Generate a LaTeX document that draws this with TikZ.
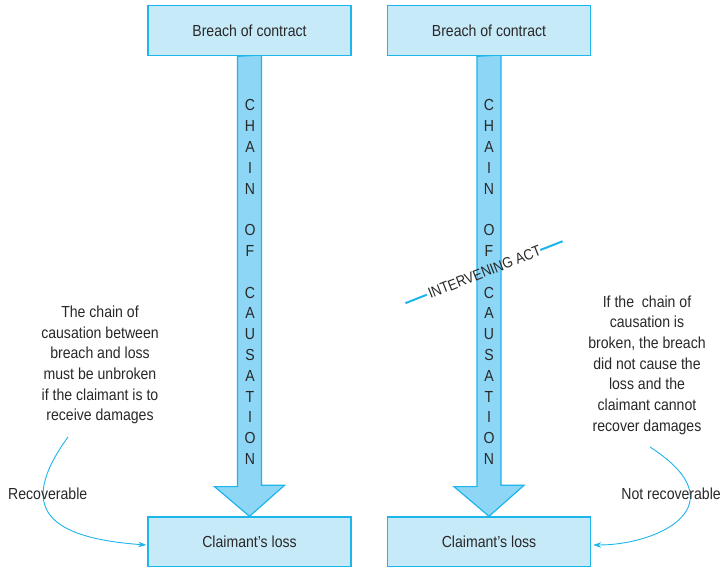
\documentclass[tikz,border=0pt]{standalone}
\usepackage{fontspec}
\setmainfont{Liberation Sans}[FakeStretch=0.88]
\usetikzlibrary{calc,arrows.meta}
\definecolor{boxfill}{RGB}{199,234,249}
\definecolor{boxline}{RGB}{30,180,236}
\definecolor{shaftfill}{RGB}{142,214,245}
\definecolor{ink}{RGB}{40,40,40}
\tikzset{
  stagebox/.style={draw=boxline, fill=boxfill, line width=1.4pt,
    minimum width=203pt, minimum height=50pt, inner sep=0pt,
    text=ink, font=\fontsize{16}{19}\selectfont},
  chainarrow/.style={draw=boxline, fill=shaftfill, line width=1.2pt, line join=miter},
  chainletters/.style={text=ink, align=center, inner sep=0pt,
    font=\fontsize{16}{20.8}\selectfont},
  note/.style={text=ink, align=center, inner sep=0pt,
    font=\fontsize{16}{20.7}\selectfont},
  linklabel/.style={text=ink, inner sep=0pt, font=\fontsize{16}{19}\selectfont},
  pointer/.style={draw=boxline, line width=0.9pt, -{Stealth[length=8pt,width=5.5pt]}},
  breakmark/.style={draw=boxline, line width=2pt},
}
\begin{document}
\begin{tikzpicture}[x=1pt,y=-1pt]
\useasboundingbox (0,0) rectangle (723,566);

% placeholders fixing where the boxes go, so the arrows can be drawn beneath them
\node[stagebox, draw=none, fill=none] (breachLpos) at (249.5,30.6) {};
\node[stagebox, draw=none, fill=none] (lossLpos) at (249.5,542) {};
\node[stagebox, draw=none, fill=none] (breachRpos) at (489,30.6) {};
\node[stagebox, draw=none, fill=none] (lossRpos) at (489,542) {};

% block arrows
\draw[chainarrow] ($(breachLpos.south)+(-12,0)$) -- ++(0,430.3) -- ++(-23,0)
  -- (lossLpos.north) -- ++(35,-31) -- ++(-23,0) -- ++(0,-430.3) -- cycle;
\draw[chainarrow] ($(breachRpos.south)+(-12,0)$) -- ++(0,430.3) -- ++(-23,0)
  -- (lossRpos.north) -- ++(35,-31) -- ++(-23,0) -- ++(0,-430.3) -- cycle;

% boxes
\node[stagebox] (breachL) at (breachLpos) {Breach of contract};
\node[stagebox] (breachR) at (breachRpos) {Breach of contract};
\node[stagebox] (lossL) at (lossLpos) {Claimant’s loss};
\node[stagebox] (lossR) at (lossRpos) {Claimant’s loss};

% lettering down the shafts
\node[chainletters, anchor=north] (chainL) at (250,99.5)
  {C\\H\\A\\I\\N\\~\\O\\F\\~\\C\\A\\U\\S\\A\\T\\I\\O\\N};
\node[chainletters, anchor=north] (chainR) at (489,99.5)
  {C\\H\\A\\I\\N\\~\\O\\F\\~\\C\\A\\U\\S\\A\\T\\I\\O\\N};

% the break in the right-hand chain
\node[linklabel, rotate=21.5, font=\fontsize{15}{18}\selectfont] (interAct)
  at (484.5,272) {INTERVENING ACT};
\draw[breakmark] ($(interAct.center)+(158.5:62)$) -- ($(interAct.center)+(158.5:85)$);
\draw[breakmark] ($(interAct.center)+(-21.5:60)$) -- ($(interAct.center)+(-21.5:84)$);

% explanatory notes
\node[note] (noteL) at (100,365)
  {The chain of\\causation between\\breach and loss\\must be unbroken\\if the claimant is to\\receive damages};
\node[note] (noteR) at (647,365)
  {If the~~chain of\\causation is\\broken, the breach\\did not cause the\\loss and the\\claimant cannot\\recover damages};

% curved pointers to the losses
\coordinate (noteLtail) at (68,437);
\coordinate (noteRtail) at (650,447);
\draw[pointer] (noteLtail) .. controls (15,510) and (50,538) .. ($(lossL.west)+(-1,3)$);
\draw[pointer] (noteRtail) .. controls (740,505) and (660,545) .. ($(lossR.east)+(2,3)$);

\node[linklabel, anchor=west] (recov) at (8,494) {Recoverable};
\node[linklabel, anchor=east] (notrecov) at (721,494) {Not recoverable};
\end{tikzpicture}
\end{document}
